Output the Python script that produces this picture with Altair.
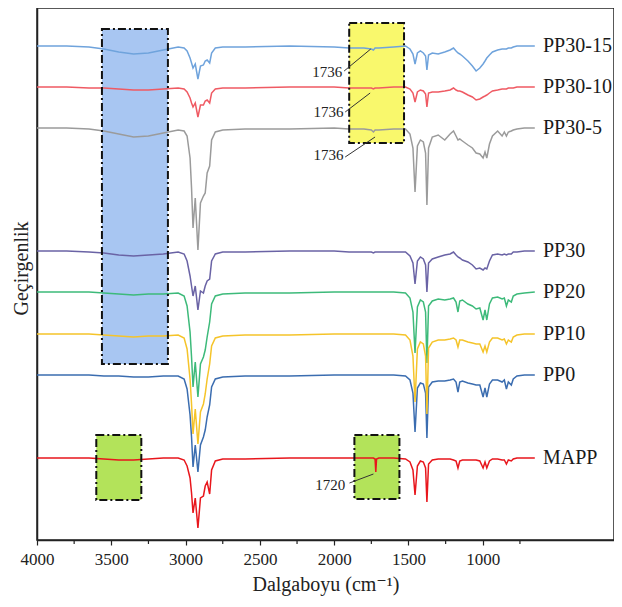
import altair as alt
import pandas as pd

# ---- wavenumber grid (cm-1) ----
WAVENUMBER = [
    4000, 3800, 3650, 3550, 3450, 3350, 3250, 3150, 3050, 3010,
    2990, 2970, 2960, 2950, 2935, 2917, 2900, 2880, 2868, 2855,
    2838, 2825, 2800, 2750, 2600, 2300, 2000, 1900, 1800, 1750,
    1736, 1725, 1720, 1715, 1700, 1600, 1520, 1490, 1470, 1456,
    1440, 1420, 1400, 1385, 1376, 1365, 1340, 1300, 1256, 1220,
    1197, 1180, 1167, 1155, 1137, 1100, 1070, 1045, 1020, 998,
    985, 973, 955, 935, 900, 870, 855, 841, 828, 808,
    795, 770, 720, 650,
]

# ---- band depths below each trace's baseline (arbitrary transmittance units) ----
PP30_15 = [
    0, 0, 1, 3, 6, 8, 7, 4, 1, 2,
    5, 12, 17, 22, 18, 33, 20, 19, 15, 14,
    17, 7, 2, 1, 1, 0, 1, 2, 2, 3,
    4, 2, 2, 2, 2, 1, 0, 3, 8, 18,
    7, 5, 7, 10, 24, 9, 7, 8, 6, 4,
    2, 5, 7, 8, 10, 15, 20, 25, 22, 18,
    15, 12, 9, 6, 4, 3, 3, 3, 2, 2,
    1, 0, 0, 0,
]
PP30_10 = [
    0, 0, 1, 1, 2, 3, 3, 2, 1, 2,
    5, 11, 16, 20, 16, 30, 18, 18, 14, 13,
    16, 6, 2, 1, 1, 0, 0, 1, 1, 1,
    2, 1, 1, 1, 1, 0, 0, 2, 6, 15,
    5, 3, 4, 7, 20, 6, 5, 5, 4, 3,
    1, 3, 4, 4, 5, 8, 10, 13, 12, 10,
    9, 8, 6, 4, 3, 2, 2, 2, 1, 1,
    1, 0, 0, 0,
]
PP30_5 = [
    0, 0, 1, 3, 6, 9, 8, 5, 2, 3,
    8, 30, 60, 100, 70, 122, 75, 68, 65, 45,
    38, 12, 4, 2, 1, 1, 0, 1, 1, 2,
    4, 2, 2, 2, 2, 1, 1, 6, 20, 64,
    18, 12, 14, 25, 77, 20, 9, 7, 12, 6,
    3, 8, 12, 11, 13, 17, 20, 25, 26, 30,
    24, 30, 16, 8, 3, 8, 4, 8, 4, 3,
    2, 1, 0, 0,
]
PP30 = [
    0, 0, 1, 2, 4, 5, 4, 3, 1, 3,
    10, 25, 35, 45, 35, 59, 40, 42, 35, 30,
    28, 10, 3, 1, 1, 0, 0, 1, 1, 1,
    2, 1, 1, 1, 1, 1, 1, 5, 12, 33,
    10, 6, 8, 14, 41, 12, 8, 6, 4, 3,
    1, 4, 6, 7, 9, 11, 14, 18, 17, 19,
    17, 18, 10, 4, 3, 4, 3, 4, 3, 3,
    1, 1, 0, 0,
]
PP20 = [
    0, 0, 0, 1, 2, 3, 2, 2, 1, 4,
    14, 40, 65, 95, 70, 105, 72, 65, 58, 45,
    30, 12, 4, 2, 1, 1, 0, 0, 0, 0,
    0, 0, 0, 0, 0, 0, 1, 6, 20, 61,
    15, 8, 10, 20, 71, 14, 9, 7, 8, 7,
    6, 10, 20, 9, 8, 12, 14, 17, 16, 28,
    18, 28, 12, 6, 5, 7, 6, 14, 8, 10,
    4, 2, 1, 0,
]
PP10 = [
    0, 0, 0, 1, 2, 3, 2, 2, 1, 4,
    15, 45, 70, 100, 75, 110, 78, 70, 60, 45,
    30, 12, 4, 2, 1, 1, 0, 0, 0, 0,
    0, 0, 0, 0, 0, 0, 1, 6, 22, 68,
    15, 8, 10, 22, 80, 14, 8, 6, 6, 5,
    4, 6, 13, 6, 6, 8, 9, 10, 10, 18,
    12, 18, 8, 4, 4, 6, 5, 10, 6, 8,
    3, 1, 0, 0,
]
PP0 = [
    0, 0, 0, 1, 1, 2, 2, 1, 1, 4,
    14, 40, 62, 92, 70, 97, 70, 62, 55, 42,
    30, 12, 4, 2, 1, 1, 0, 0, 0, 0,
    0, 0, 0, 0, 0, 0, 1, 5, 18, 57,
    13, 8, 9, 18, 63, 12, 7, 6, 6, 5,
    4, 7, 17, 7, 6, 8, 9, 10, 10, 22,
    13, 22, 9, 5, 5, 7, 5, 14, 7, 10,
    4, 1, 0, 0,
]
MAPP = [
    0, 0, 0, 1, 2, 2, 1, 0, 0, 2,
    8, 20, 35, 55, 40, 70, 40, 38, 28, 24,
    36, 12, 3, 1, 1, 0, 0, 0, 0, 0,
    0, 1, 14, 1, 0, 0, 1, 4, 12, 37,
    8, 3, 4, 10, 44, 6, 2, 1, 1, 1,
    2, 3, 10, 3, 2, 2, 2, 2, 3, 10,
    4, 10, 3, 1, 1, 2, 2, 6, 2, 3,
    1, 0, 0, 0,
]

SERIES = ["PP30-15", "PP30-10", "PP30-5", "PP30", "PP20", "PP0", "PP10", "MAPP"]
DEPTHS = [PP30_15, PP30_10, PP30_5, PP30, PP20, PP0, PP10, MAPP]
BASELINE = [494, 453, 412, 289, 248, 165, 206, 82]
COLORS = ["#6fa3dc", "#ef5a63", "#9b9b9b", "#6a63a5", "#3dba7a", "#3b6db0", "#f5c42a", "#e8161c"]

LABEL_WN = 595

# highlight boxes
BOX_X1 = [3563, 1899, 3601, 1864]
BOX_X2 = [3119, 1530, 3298, 1561]
BOX_Y1 = [511, 517, 105, 105]
BOX_Y2 = [176, 397, 40, 41]
BOX_FILL = ["#a8c6f2", "#f9f86c", "#b3e35a"]
BOX_FILL_IDX = [0, 1, 2, 2]

# peak annotations
ANN_TEXT = ["1736", "1736", "1736", "1720"]
ANN_X1 = [1933, 1926, 1926, 1897]
ANN_Y1 = [469, 428, 383, 57]
ANN_X2 = [1754, 1758, 1725, 1736]
ANN_Y2 = [491, 447, 403, 66]
ANN_TX = [1945, 1938, 1938, 1926]
ANN_TY = [468, 428, 385, 55]

MAJOR_TICKS = [4000, 3500, 3000, 2500, 2000, 1500, 1000]
MINOR_TICKS = [3750, 3250, 2750, 2250, 1750, 1250, 750]

FONT = "Liberation Serif, Times New Roman, Times, DejaVu Serif, serif"

rows = []
for name, base, depths in zip(SERIES, BASELINE, DEPTHS):
    for wn, d in zip(WAVENUMBER, depths):
        rows.append({"wn": wn, "T": base - d, "series": name})
spec_df = pd.DataFrame(rows)

labels_df = pd.DataFrame({"series": SERIES, "T": BASELINE, "wn": [LABEL_WN] * len(SERIES)})
boxes_df = pd.DataFrame({
    "x1": BOX_X1, "x2": BOX_X2, "y1": BOX_Y1, "y2": BOX_Y2,
    "fill": [BOX_FILL[i] for i in BOX_FILL_IDX],
})
ann_df = pd.DataFrame({
    "text": ANN_TEXT, "x1": ANN_X1, "y1": ANN_Y1, "x2": ANN_X2, "y2": ANN_Y2,
    "tx": ANN_TX, "ty": ANN_TY,
})
minor_df = pd.DataFrame({"wn": MINOR_TICKS})

xs = alt.Scale(domain=[4000, 117], nice=False, zero=False)
ys = alt.Scale(domain=[0, 532], nice=False, zero=False)

x_axis = alt.Axis(
    values=MAJOR_TICKS, format="d", title="Dalgaboyu (cm⁻¹)",
    labelFont=FONT, labelFontSize=17, labelColor="#222", labelPadding=6,
    labelFlush=False, labelOverlap=False,
    tickSize=5, tickColor="#222", tickWidth=1.2,
    domainColor="#222", domainWidth=1.5, grid=False,
    titleFont=FONT, titleFontSize=20, titleFontWeight="normal", titleColor="#222",
    titleY=44, titleBaseline="middle",
)
y_axis = alt.Axis(
    labels=False, ticks=False, grid=False, domainColor="#222", domainWidth=1.5,
    title="Geçirgenlik", titleFont=FONT, titleFontSize=20, titleFontWeight="normal",
    titleColor="#222", titleAngle=270, titleX=-16, titleY=260,
    titleAlign="center", titleBaseline="middle",
)

box_fill = alt.Chart(boxes_df).mark_rect(strokeWidth=0).encode(
    x=alt.X("x1:Q", scale=xs, axis=x_axis),
    x2="x2:Q",
    y=alt.Y("y1:Q", scale=ys, axis=y_axis),
    y2="y2:Q",
    fill=alt.Fill("fill:N", scale=None),
)

lines = alt.Chart(spec_df).mark_line(strokeWidth=1.5).encode(
    x=alt.X("wn:Q", scale=xs),
    y=alt.Y("T:Q", scale=ys),
    color=alt.Color("series:N", scale=alt.Scale(domain=SERIES, range=COLORS), legend=None),
    detail="series:N",
)

box_border = alt.Chart(boxes_df).mark_rect(
    fillOpacity=0, stroke="#111", strokeWidth=2, strokeDash=[8, 3, 2, 3]
).encode(
    x=alt.X("x1:Q", scale=xs), x2="x2:Q",
    y=alt.Y("y1:Q", scale=ys), y2="y2:Q",
)

ann_lines = alt.Chart(ann_df).mark_rule(color="#333", strokeWidth=1).encode(
    x=alt.X("x1:Q", scale=xs), x2="x2:Q",
    y=alt.Y("y1:Q", scale=ys), y2="y2:Q",
)

ann_text = alt.Chart(ann_df).mark_text(
    align="right", baseline="middle", font=FONT, fontSize=15, color="#222"
).encode(
    x=alt.X("tx:Q", scale=xs), y=alt.Y("ty:Q", scale=ys), text="text:N",
)

series_labels = alt.Chart(labels_df).mark_text(
    align="left", baseline="middle", font=FONT, fontSize=20, color="#1a1a1a"
).encode(
    x=alt.X("wn:Q", scale=xs), y=alt.Y("T:Q", scale=ys), text="series:N",
)

minor_ticks = alt.Chart(minor_df).mark_rule(color="#222", strokeWidth=1.2).encode(
    x=alt.X("wn:Q", scale=xs),
    y=alt.value(532), y2=alt.value(536),
)

chart = alt.layer(
    box_fill, lines, box_border, ann_lines, ann_text, series_labels, minor_ticks
).properties(
    width=577, height=532,
    padding={"left": 29, "top": 0, "right": 0, "bottom": 59},
    autosize=alt.AutoSizeParams(type="none"),
).configure_view(stroke="#222", strokeWidth=1.5)

chart.save("out.html", embed_options={"renderer": "svg", "actions": False})
